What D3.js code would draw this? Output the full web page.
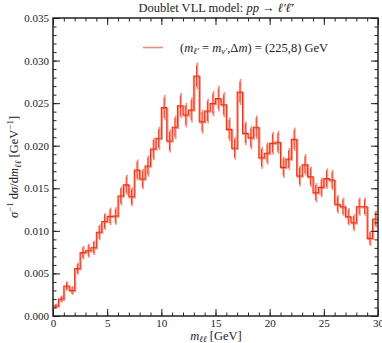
<!DOCTYPE html>
<html><head><meta charset="utf-8">
<script src="https://cdn.jsdelivr.net/npm/d3@7"></script>
<style>html,body{margin:0;padding:0;background:#fff;}svg{display:block;}</style>
</head><body>
<svg id="c" width="382" height="343"></svg>
<script>
const binEdges = d3.range(0, 30.001, 0.5);
const values = [0.00117,0.0020,0.00352,0.0030,0.00556,0.00744,0.00767,0.00802,0.00983,0.0111,0.0117,0.01174,0.0141,0.0154,0.0140,0.01715,0.01609,0.01762,0.01961,0.02087,0.02447,0.02055,0.02216,0.0247,0.0236,0.0242,0.02819,0.02282,0.02408,0.02494,0.02553,0.02482,0.02192,0.0197,0.02631,0.02145,0.02094,0.02216,0.01859,0.01911,0.02028,0.0204,0.01746,0.01844,0.02075,0.01644,0.01777,0.01636,0.01448,0.01511,0.01613,0.01597,0.01312,0.01284,0.01166,0.01096,0.01284,0.01284,0.00912,0.01139];
const errors = [0.0003,0.00042,0.00056,0.00052,0.0007,0.0008,0.00082,0.00085,0.00094,0.001,0.00103,0.00103,0.00112,0.00118,0.00112,0.00124,0.0012,0.00126,0.00133,0.00137,0.00148,0.00136,0.0014,0.00148,0.00146,0.00147,0.00158,0.00142,0.00146,0.00149,0.0015,0.00149,0.0014,0.00133,0.00154,0.00139,0.00137,0.0014,0.0013,0.00131,0.00135,0.00136,0.00125,0.00129,0.00137,0.00122,0.00126,0.00121,0.00114,0.00117,0.00121,0.0012,0.00108,0.00107,0.00103,0.001,0.00107,0.00107,0.0009,0.00101];
const xTicks = [0,5,10,15,20,25,30];
const yTicks = [0,0.005,0.010,0.015,0.020,0.025,0.030,0.035];

const L=53,R=378,T=18,B=316;
const svg=d3.select("#c");
const x=d3.scaleLinear().domain([0,30]).range([L,R]);
const y=d3.scaleLinear().domain([0,0.035]).range([B,T]);
const serif="'Liberation Serif','DejaVu Serif',serif";
const light="#f58a7c", red="#f2300f";

const g=svg.append("g");
const stepPts=[];
values.forEach((v,i)=>{stepPts.push([binEdges[i],v]);stepPts.push([binEdges[i+1],v]);});
const line=d3.line().x(d=>x(d[0])).y(d=>y(d[1]));
values.forEach((v,i)=>{
  const cx=x((binEdges[i]+binEdges[i+1])/2);
  g.append("line").attr("x1",cx+0.8).attr("x2",cx+0.8).attr("y1",y(v-errors[i])).attr("y2",y(v+errors[i]))
   .attr("stroke",light).attr("stroke-width",1.8).attr("opacity",0.9);
});
g.append("path").attr("d",line(stepPts)).attr("transform","translate(0.8,0.8)").attr("fill","none").attr("stroke",light).attr("stroke-width",1.8).attr("opacity",0.9);
values.forEach((v,i)=>{
  const cx=x((binEdges[i]+binEdges[i+1])/2);
  g.append("line").attr("x1",cx).attr("x2",cx).attr("y1",y(v-errors[i]*0.8)).attr("y2",y(v+errors[i]*0.8))
   .attr("stroke",red).attr("stroke-width",0.9);
});
g.append("path").attr("d",line(stepPts)).attr("fill","none").attr("stroke",red).attr("stroke-width",1.1);

const axG=svg.append("g");
const axBottom=d3.axisBottom(x).tickValues(xTicks).tickSize(-7).tickPadding(3).tickFormat(d3.format("d"));
const axBottomMinor=d3.axisBottom(x).tickValues(d3.range(0,31,1)).tickSize(-3.5).tickFormat("");
const axTop=d3.axisTop(x).tickValues(xTicks).tickSize(-7).tickFormat("");
const axTopMinor=d3.axisTop(x).tickValues(d3.range(0,31,1)).tickSize(-3.5).tickFormat("");
const axLeft=d3.axisLeft(y).tickValues(yTicks).tickSize(-7).tickPadding(4).tickFormat(d3.format(".3f"));
const axLeftMinor=d3.axisLeft(y).tickValues(d3.range(0,36,1).map(d=>d/1000)).tickSize(-3.5).tickFormat("");
const axRight=d3.axisRight(y).tickValues(yTicks).tickSize(-7).tickFormat("");
const axRightMinor=d3.axisRight(y).tickValues(d3.range(0,36,1).map(d=>d/1000)).tickSize(-3.5).tickFormat("");
[[axBottom,`translate(0,${B})`],[axBottomMinor,`translate(0,${B})`],[axTop,`translate(0,${T})`],[axTopMinor,`translate(0,${T})`],
 [axLeft,`translate(${L},0)`],[axLeftMinor,`translate(${L},0)`],[axRight,`translate(${R},0)`],[axRightMinor,`translate(${R},0)`]].forEach(([a,t])=>{
  const gg=axG.append("g").attr("transform",t).call(a);
  gg.select(".domain").remove();
  gg.selectAll(".tick line").attr("stroke","#222").attr("stroke-width",1);
  gg.selectAll("text").attr("font-family",serif).attr("font-size",11).attr("fill","#222");
});
axG.append("rect").attr("x",L).attr("y",T).attr("width",R-L).attr("height",B-T).attr("fill","none").attr("stroke","#222").attr("stroke-width",1.5);

const title=svg.append("text").attr("x",216).attr("y",12).attr("text-anchor","middle").attr("font-family",serif).attr("font-size",12.5).attr("fill","#222");
title.append("tspan").text("Doublet VLL model: ");
title.append("tspan").attr("font-style","italic").text("pp");
title.append("tspan").text(" \u2192 ");
title.append("tspan").attr("font-style","italic").text("\u2113\u2032\u2113\u0304\u2032");

svg.append("line").attr("x1",143).attr("x2",163).attr("y1",47.5).attr("y2",47.5).attr("stroke",light).attr("stroke-width",1.6);
const lg=svg.append("text").attr("x",180).attr("y",51.5).attr("font-family",serif).attr("font-size",12.5).attr("fill","#222");
lg.append("tspan").text("(");
lg.append("tspan").attr("font-style","italic").text("m");
lg.append("tspan").attr("font-style","italic").attr("font-size",9).attr("dy",2.5).text("\u2113\u2032");
lg.append("tspan").attr("dy",-2.5).text(" = ");
lg.append("tspan").attr("font-style","italic").text("m");
lg.append("tspan").attr("font-style","italic").attr("font-size",9).attr("dy",2.5).text("\u03BD\u2032");
lg.append("tspan").attr("dy",-2.5).text(",\u0394");
lg.append("tspan").attr("font-style","italic").text("m");
lg.append("tspan").text(") = (225,8) GeV");

const xl=svg.append("text").attr("x",216).attr("y",340).attr("text-anchor","middle").attr("font-family",serif).attr("font-size",12.5).attr("fill","#222");
xl.append("tspan").attr("font-style","italic").text("m");
xl.append("tspan").attr("font-style","italic").attr("font-size",9).attr("dy",2).text("\u2113\u2113");
xl.append("tspan").attr("dy",-2).text(" [GeV]");

const yl=svg.append("text").attr("transform","translate(18,167) rotate(-90)").attr("text-anchor","middle").attr("font-family",serif).attr("font-size",12.5).attr("fill","#222");
yl.append("tspan").attr("font-style","italic").text("\u03C3");
yl.append("tspan").attr("font-size",9).attr("dy",-5).text("\u22121");
yl.append("tspan").attr("dy",5).text(" d");
yl.append("tspan").attr("font-style","italic").text("\u03C3");
yl.append("tspan").text("/d");
yl.append("tspan").attr("font-style","italic").text("m");
yl.append("tspan").attr("font-style","italic").attr("font-size",9).attr("dy",2.5).text("\u2113\u2113");
yl.append("tspan").attr("dy",-2.5).text(" [GeV");
yl.append("tspan").attr("font-size",9).attr("dy",-5).text("\u22121");
yl.append("tspan").attr("dy",5).text("]");
</script>
</body></html>
